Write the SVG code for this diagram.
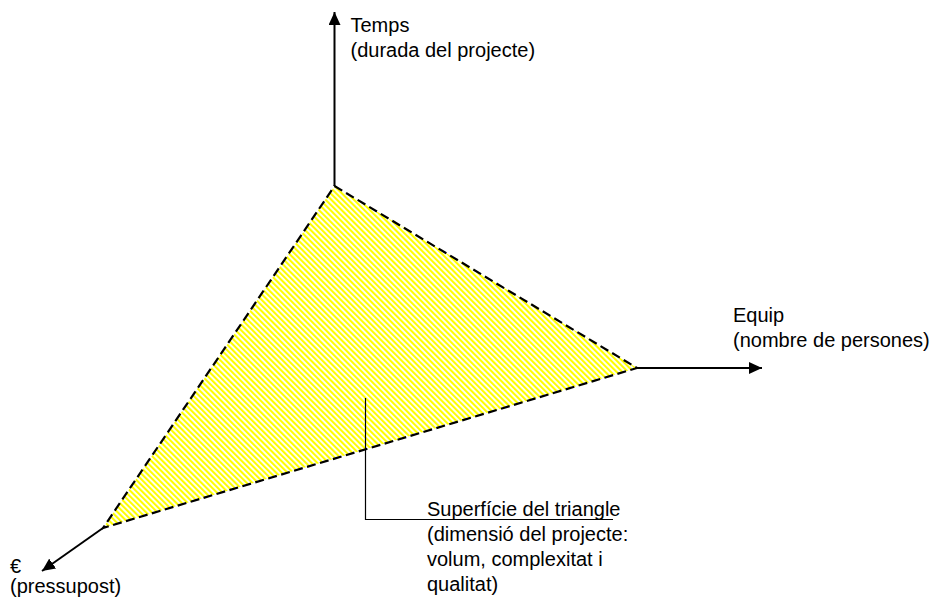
<svg xmlns="http://www.w3.org/2000/svg" width="945" height="604" viewBox="0 0 945 604">
  <style>
    .t { font-family: "Liberation Sans", Arial, sans-serif; font-size: 20px; fill: #000; }
    .axis { stroke: #000; stroke-width: 2; fill: none; }
    .edge { stroke: #000; stroke-width: 2.2; stroke-dasharray: 9 4.5; fill: none; }
    .callout { stroke: #000; stroke-width: 1.2; fill: none; }
  </style>
  <defs>
    <pattern id="hatch" patternUnits="userSpaceOnUse" width="4" height="10" patternTransform="rotate(-45)">
      <rect x="0" y="0" width="4" height="10" fill="#fff"/>
      <rect x="0" y="0" width="2.1" height="10" fill="#ffff00"/>
    </pattern>
    <marker id="arr" markerUnits="userSpaceOnUse" markerWidth="14" markerHeight="12" refX="13" refY="6" orient="auto">
      <path d="M0,0 L13,6 L0,12 Z" fill="#000"/>
    </marker>
  </defs>

  <g id="triangle">
    <polygon points="334.5,186 637,368 103,528" fill="url(#hatch)"/>
    <polygon points="334.5,186 637,368 103,528" class="edge"/>
  </g>

  <g id="connectors">
    <line x1="334.5" y1="186" x2="334.5" y2="12" class="axis" marker-end="url(#arr)"/>
    <line x1="637" y1="368" x2="762" y2="368" class="axis" marker-end="url(#arr)"/>
    <line x1="103" y1="528" x2="42" y2="571" class="axis" marker-end="url(#arr)"/>
    <polyline points="365.5,398 365.5,519.5 613,519.5" class="callout"/>
  </g>

  <g id="label-temps">
    <text class="t" x="350.5" y="31.5">Temps</text>
    <text class="t" x="350.5" y="56.5">(durada del projecte)</text>
  </g>

  <g id="label-equip">
    <text class="t" x="733" y="322">Equip</text>
    <text class="t" x="733" y="347">(nombre de persones)</text>
  </g>

  <g id="label-pressupost">
    <text class="t" x="10" y="573">€</text>
    <text class="t" x="10" y="593">(pressupost)</text>
  </g>

  <g id="label-superficie">
    <text class="t" x="427" y="515.5">Superfície del triangle</text>
    <text class="t" x="427" y="541">(dimensió del projecte:</text>
    <text class="t" x="427" y="566">volum, complexitat i</text>
    <text class="t" x="427" y="591">qualitat)</text>
  </g>
</svg>
